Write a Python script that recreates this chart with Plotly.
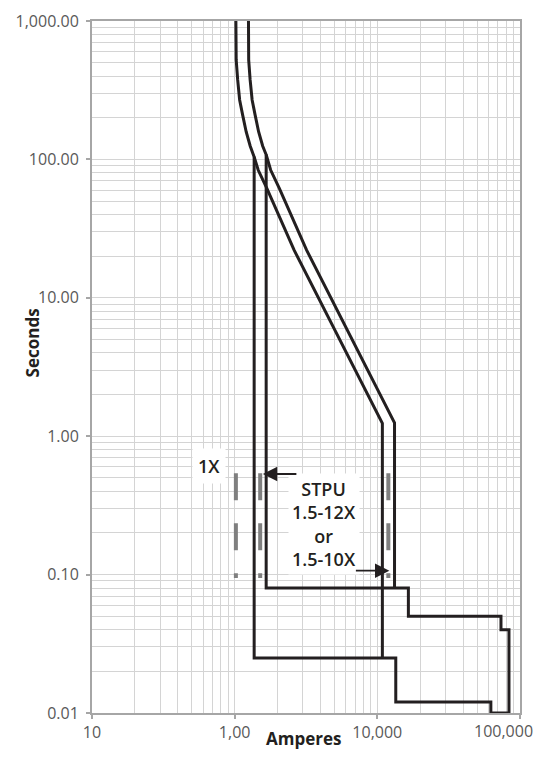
import numpy as np
import plotly.graph_objects as go

# ---------------- data (amperes, seconds) ----------------
# Minimum-trip band: long-time curve down to the short-time pickup branch point,
# then short-time pickup vertical, short-time delay band and instantaneous steps.
min_main_amps = [1020, 1025, 1050, 1084, 1138, 1204, 1285, 1370,
                 1370, 13470, 13470, 62500, 62500, 83750]
min_main_secs = [1000, 523, 375, 269, 209, 158.5, 125, 104,
                 0.025, 0.025, 0.012, 0.012, 0.01, 0.01]
# Minimum band: long-time slope continuing from the branch point
min_slope_amps = [1370, 1462, 1682, 1954, 2322, 2612, 10850, 10850]
min_slope_secs = [104, 83.8, 61.8, 43.1, 29.2, 22.1, 1.24, 0.025]

# Maximum-trip band
max_main_amps = [1250, 1254, 1284, 1326, 1392, 1472, 1572, 1663,
                 1663, 16510, 16510, 73600, 73600, 83750, 83750]
max_main_secs = [1000, 523, 375, 269, 209, 158.5, 125, 108,
                 0.08, 0.08, 0.05, 0.05, 0.04, 0.04, 0.01]
max_slope_amps = [1663, 1788, 2057, 2390, 2840, 3195, 13200, 13200]
max_slope_secs = [108, 83.8, 61.8, 43.1, 29.2, 22.1, 1.25, 0.08]

# Pickup setting markers (1X, 1.5X, 12X)
marker_amps = [1020, 1510, 11950]
marker_secs = [0.54, 0.0945]

# Axis ticks
x_tick_vals = [100, 1000, 10000, 100000]
x_tick_text = ["10", "1,00", "10,000", "100,000"]
y_tick_vals = [0.01, 0.1, 1, 10, 100, 1000]
y_tick_text = ["0.01", "0.10", "1.00", "10.00", "100.00", "1,000.00"]

# ---------------- figure ----------------
LINE = "#231f20"
GRID = "#d4d4d4"
AXIS = "#a6a6a6"
FONT = "Open Sans"
TICKFONT = dict(family=FONT, size=16, color="#595959")

fig = go.Figure()

for xs, ys in [(min_main_amps, min_main_secs), (min_slope_amps, min_slope_secs),
               (max_main_amps, max_main_secs), (max_slope_amps, max_slope_secs)]:
    fig.add_trace(go.Scatter(x=xs, y=ys, mode="lines",
                             line=dict(color=LINE, width=3),
                             hoverinfo="skip", showlegend=False))

for a in marker_amps:
    fig.add_trace(go.Scatter(x=[a, a], y=marker_secs, mode="lines",
                             line=dict(color="#7f7f7f", width=4, dash="27px,23px"),
                             hoverinfo="skip", showlegend=False))

minor_x = [m * 10 ** e for e in range(2, 5) for m in range(2, 10)]
minor_y = [m * 10.0 ** e for e in range(-2, 3) for m in range(2, 10)]

axis_common = dict(
    type="log", automargin=False,
    showline=True, linecolor=AXIS, linewidth=2, mirror=True,
    ticks="outside", ticklen=4, tickcolor=AXIS, tickwidth=1.5,
    showgrid=True, gridcolor=GRID, gridwidth=1,
    zeroline=False,
    tickfont=TICKFONT,
    tickmode="array",
)

# the last x label sits against the right edge of the chart, so it is placed
# as right-aligned text instead of being centred on its tick
fig.update_xaxes(range=[2, 5.0002], tickvals=x_tick_vals,
                 ticktext=x_tick_text[:-1] + [""],
                 minor=dict(tickmode="array", tickvals=minor_x, showgrid=True,
                            gridcolor=GRID, gridwidth=1, ticks=""),
                 **axis_common)
fig.update_yaxes(range=[-2, 3], tickvals=y_tick_vals, ticktext=y_tick_text,
                 ticklabelstandoff=4,
                 minor=dict(tickmode="array", tickvals=minor_y, showgrid=True,
                            gridcolor=GRID, gridwidth=1, ticks=""),
                 **axis_common)
fig.add_annotation(x=1.035, y=-0.026, xref="paper", yref="paper",
                   xanchor="right", yanchor="middle",
                   text=x_tick_text[-1], showarrow=False, font=TICKFONT)

ann_font = dict(family=FONT, size=18, color=LINE, weight=600)

# Text labels
fig.add_annotation(x=np.log10(660), y=np.log10(0.61), xref="x", yref="y",
                   text="1X", showarrow=False, font=ann_font,
                   bgcolor="white", borderpad=5)
fig.add_annotation(x=np.log10(4240), y=np.log10(0.234), xref="x", yref="y",
                   text="STPU<br>1.5-12X<br>or<br>1.5-10X", showarrow=False,
                   font=ann_font, bgcolor="white", borderpad=3, align="center")

# Arrows
fig.add_annotation(x=np.log10(1577), y=np.log10(0.533), xref="x", yref="y",
                   text="", showarrow=True, axref="pixel", ayref="pixel",
                   ax=35, ay=0, arrowhead=2, arrowsize=1.6, arrowwidth=1.8,
                   arrowcolor=LINE, standoff=0)
fig.add_annotation(x=np.log10(12150), y=np.log10(0.1067), xref="x", yref="y",
                   text="", showarrow=True, axref="pixel", ayref="pixel",
                   ax=-35, ay=0, arrowhead=2, arrowsize=1.6, arrowwidth=1.8,
                   arrowcolor=LINE, standoff=0)

# Axis titles
fig.add_annotation(x=0.4945, y=-0.0564, xref="paper", yref="paper",
                   text="<b>Amperes</b>", showarrow=False,
                   font=dict(family=FONT, size=17, color=LINE))
fig.add_annotation(x=-0.1714, y=0.5343, xref="paper", yref="paper",
                   text="<b>Seconds</b>", showarrow=False, textangle=-90,
                   font=dict(family=FONT, size=17, color=LINE))

fig.update_layout(
    width=537, height=762, autosize=False,
    margin=dict(l=92, r=17, t=21, b=49),
    paper_bgcolor="white", plot_bgcolor="white",
    showlegend=False,
)

fig.write_html("out.html", config={"displayModeBar": False},
               post_script="document.body.style.margin='0';document.body.style.overflow='hidden';")
